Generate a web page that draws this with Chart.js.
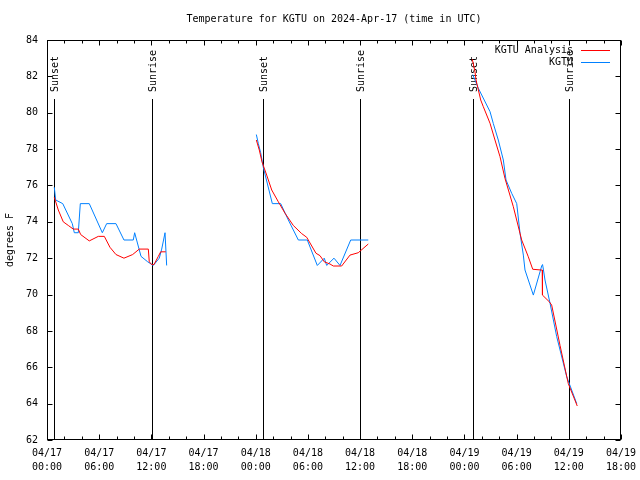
<!DOCTYPE html>
<html>
<head>
<meta charset="utf-8">
<title>Temperature for KGTU</title>
<script src="https://cdn.jsdelivr.net/npm/chart.js@4.4.1/dist/chart.umd.min.js"></script>
<style>
  html, body { margin: 0; padding: 0; background: #fff; }
  canvas { display: block; }
</style>
</head>
<body>
<canvas id="tempChart" width="640" height="480"></canvas>
<script>
/* ── KGTU temperature: analysis vs observations ──
   x values are hours since 04/17 00:00 UTC, y values in °F.
   A null temperature breaks the line between days. */

// ── Series: KGTU Analysis ──
const analysisHours = [
  0.84, 1.30, 1.87, 2.45, 3.02, 3.60, 3.87, 4.86, 5.90, 6.59, 7.24, 7.93, 8.85, 9.85, 10.61, 11.65, 11.76, 12.04, 12.30, 12.80, 13.07, 13.65,
  18,
  24.07, 24.41, 24.72, 25.26, 25.84, 26.60, 27.37, 28.32, 29.29, 29.86, 30.93, 31.39, 31.88, 32.54, 32.92, 33.88, 34.84, 35.79, 36.94,
  42,
  48.90, 49.21, 49.33, 49.87, 50.17, 50.94, 51.51, 52.09, 52.66, 53.62, 54.58, 55.34, 55.85, 56.80, 56.95, 56.97, 57.76, 58.03, 58.99, 59.94, 60.97
];
const analysisTemps = [
  75.35, 74.65, 74.0, 73.8, 73.6, 73.6, 73.3, 72.95, 73.2, 73.2, 72.6, 72.2, 72.0, 72.2, 72.5, 72.5, 71.8, 71.65, 71.65, 72.1, 72.35, 72.35,
  null,
  78.5, 77.95, 77.3, 76.57, 75.75, 75.1, 74.47, 73.8, 73.35, 73.15, 72.27, 72.14, 71.8, 71.68, 71.57, 71.57, 72.17, 72.3, 72.78,
  null,
  82.94, 82.26, 81.8, 80.7, 80.33, 79.42, 78.5, 77.58, 76.39, 74.83, 73.0, 72.08, 71.39, 71.35, 71.35, 69.97, 69.6, 69.42, 67.2, 65.1, 63.87
];

// ── Series: KGTU observations ──
const obsHours = [
  0.84, 1.00, 1.81, 2.91, 3.14, 3.60, 3.83, 4.86, 6.36, 6.86, 7.93, 8.85, 9.92, 10.08, 10.81, 11.58, 12.22, 12.91, 13.19, 13.57, 13.76,
  18,
  24.07, 24.30, 24.57, 24.87, 25.91, 26.87, 27.75, 28.90, 29.93, 31.08, 31.88, 32.16, 33.00, 33.69, 34.92, 36.94,
  42,
  48.95, 49.59, 50.94, 51.32, 51.89, 52.47, 52.78, 53.43, 54.01, 54.39, 54.77, 54.96, 55.92, 56.88, 56.98, 57.07, 57.26, 57.84, 58.61, 59.76, 60.91
];
const obsTemps = [
  75.9, 75.2, 75.0, 73.9, 73.4, 73.4, 75.0, 75.0, 73.4, 73.9, 73.9, 73.0, 73.0, 73.4, 72.1, 71.8, 71.6, 72.0, 72.5, 73.4, 71.6,
  null,
  78.8, 78.3, 77.8, 77.0, 75.0, 75.0, 74.1, 73.0, 73.0, 71.6, 72.0, 71.6, 72.0, 71.6, 73.0, 73.0,
  null,
  82.1, 81.35, 80.06, 79.4, 78.5, 77.4, 76.3, 75.57, 75.0, 73.37, 72.17, 71.35, 69.97, 71.57, 71.65, 71.4, 70.8, 69.52, 67.68, 65.48, 64.0
];

// ── Sunrise / sunset markers (hours since 04/17 00:00 UTC) ──
const sunEventHours = [0.84, 12.07, 24.87, 36.02, 48.93, 60.04];
const sunEventNames = ['Sunset', 'Sunrise', 'Sunset', 'Sunrise', 'Sunset', 'Sunrise'];

// ── Axis ticks ──
const xTickLabels = [
  ['04/17', '00:00'], ['04/17', '06:00'], ['04/17', '12:00'], ['04/17', '18:00'],
  ['04/18', '00:00'], ['04/18', '06:00'], ['04/18', '12:00'], ['04/18', '18:00'],
  ['04/19', '00:00'], ['04/19', '06:00'], ['04/19', '12:00'], ['04/19', '18:00']
];
const yMin = 62, yMax = 84, yStep = 2;

const MONO = "'DejaVu Sans Mono', 'Liberation Mono', monospace";

function toPoints(hours, temps) {
  return hours.map((h, i) => ({ x: h, y: temps[i] }));
}

// ── Gnuplot-style frame: border, inward ticks, sun lines, legend ──
const gnuplotFrame = {
  id: 'gnuplotFrame',
  beforeDatasetsDraw(chart) {
    const { ctx, chartArea: a, scales: { x } } = chart;
    ctx.save();
    ctx.strokeStyle = '#000';
    ctx.fillStyle = '#000';
    ctx.lineWidth = 1;
    ctx.font = '10px ' + MONO;
    sunEventHours.forEach((h, i) => {
      const px = Math.round(x.getPixelForValue(h)) + 0.5;
      ctx.beginPath();
      ctx.moveTo(px, 99);
      ctx.lineTo(px, a.bottom);
      ctx.stroke();
      ctx.save();
      ctx.translate(px + 1, 92);
      ctx.rotate(-Math.PI / 2);
      ctx.textAlign = 'left';
      ctx.textBaseline = 'middle';
      ctx.fillText(sunEventNames[i], 0, 0);
      ctx.restore();
    });
    ctx.restore();
  },
  afterDraw(chart) {
    const { ctx, chartArea: a, scales: { x, y } } = chart;
    const L = Math.round(a.left) + 0.5, R = Math.round(a.right) - 0.5;
    const T = Math.round(a.top) + 0.5, B = Math.round(a.bottom) - 0.5;
    const seg = (x1, y1, x2, y2) => { ctx.beginPath(); ctx.moveTo(x1, y1); ctx.lineTo(x2, y2); ctx.stroke(); };

    ctx.save();
    ctx.strokeStyle = '#000';
    ctx.lineWidth = 1;
    ctx.strokeRect(L, T, R - L, B - T);

    // x ticks: major every 6 h, minor every 2 h, on bottom and top
    x.ticks.forEach(t => {
      const px = Math.round(x.getPixelForValue(t.value)) + 0.5;
      const len = t.value % 6 === 0 ? 5 : 3;
      seg(px, B, px, B - len);
      seg(px, T, px, T + len);
    });
    // y ticks on left and right
    y.ticks.forEach(t => {
      const py = Math.round(y.getPixelForValue(t.value)) + 0.5;
      seg(L, py, L + 5, py);
      seg(R, py, R - 5, py);
    });

    // legend, top right inside the plot
    ctx.font = '10px ' + MONO;
    ctx.textAlign = 'right';
    ctx.textBaseline = 'middle';
    ctx.fillStyle = '#000';
    chart.data.datasets.forEach((ds, i) => {
      const ly = 50 + i * 12;
      ctx.fillText(ds.label, 573, ly);
      ctx.strokeStyle = ds.borderColor;
      seg(581, ly + 0.5, 610, ly + 0.5);
    });
    ctx.restore();
  }
};

new Chart(document.getElementById('tempChart'), {
  type: 'line',
  data: {
    datasets: [{
      label: 'KGTU Analysis',
      data: toPoints(analysisHours, analysisTemps),
      borderColor: '#ff0000',
      borderWidth: 1,
      pointRadius: 0,
      tension: 0,
      spanGaps: false
    }, {
      label: 'KGTU',
      data: toPoints(obsHours, obsTemps),
      borderColor: '#0080ff',
      borderWidth: 1,
      pointRadius: 0,
      tension: 0,
      spanGaps: false
    }]
  },
  options: {
    responsive: false,
    animation: false,
    devicePixelRatio: 1,
    layout: { padding: { left: 0, right: 19, top: 0, bottom: 0 } },
    plugins: {
      legend: { display: false },
      tooltip: { enabled: false },
      title: {
        display: true,
        text: 'Temperature for KGTU on 2024-Apr-17 (time in UTC)',
        fullSize: false,
        color: '#000',
        font: { family: MONO, size: 10, weight: 'normal', lineHeight: 1.2 },
        padding: { top: 13, bottom: 15 }
      }
    },
    scales: {
      x: {
        type: 'linear',
        min: 0,
        max: 66,
        grid: { display: false, drawTicks: false },
        border: { display: false },
        ticks: {
          stepSize: 2,
          autoSkip: false,
          maxRotation: 0,
          padding: 6,
          color: '#000',
          font: { family: MONO, size: 10, lineHeight: 1.4 },
          callback: v => (v % 6 === 0 ? xTickLabels[v / 6] : '')
        },
        afterFit: scale => {
          scale.height = 40;
          scale.paddingLeft = 0;
          scale.paddingRight = 0;
        }
      },
      y: {
        min: yMin,
        max: yMax,
        grid: { display: false, drawTicks: false },
        border: { display: false },
        ticks: {
          stepSize: yStep,
          padding: 9,
          color: '#000',
          font: { family: MONO, size: 10 }
        },
        title: {
          display: true,
          text: 'degrees F',
          color: '#000',
          font: { family: MONO, size: 10, lineHeight: 1.2 },
          padding: { top: 4, bottom: 0 }
        },
        afterFit: scale => { scale.width = 47; }
      }
    }
  },
  plugins: [gnuplotFrame]
});
</script>
</body>
</html>
